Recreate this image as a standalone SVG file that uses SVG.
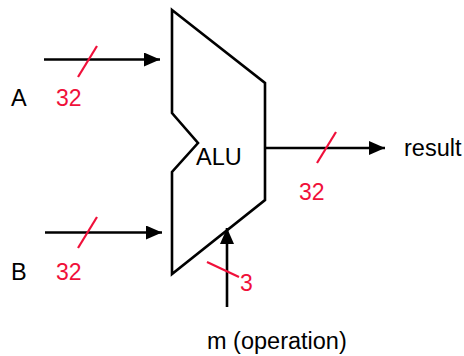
<svg xmlns="http://www.w3.org/2000/svg" width="464" height="356" viewBox="0 0 464 356">
  <style>
    .wire { stroke: #000; stroke-width: 2.6; fill: none; }
    .width { stroke: #f0103a; stroke-width: 2.2; fill: none; }
    .lbl { font-family: "Liberation Sans", Arial, sans-serif; font-size: 23.5px; fill: #000; }
    .num { font-family: "Liberation Sans", Arial, sans-serif; font-size: 23px; fill: #f0103a; }
  </style>
  <defs>
    <marker id="arrow" markerWidth="16" markerHeight="14" refX="16" refY="7" orient="auto" markerUnits="userSpaceOnUse">
      <path d="M0,0 L16,7 L0,14 Z" fill="#000"/>
    </marker>
  </defs>

  <rect width="464" height="356" fill="#fff"/>

  <g id="alu">
    <path class="wire" d="M172,10 L265,83 L265,200 L172,274 L172,172 L198,143 L172,113 Z" fill="#fff" stroke-linejoin="miter"/>
    <text class="lbl" x="196" y="165">ALU</text>
  </g>

  <g id="input-a">
    <text class="lbl" x="11" y="106">A</text>
  </g>

  <g id="input-b">
    <text class="lbl" x="11" y="280">B</text>
  </g>

  <g id="output-result">
    <text class="lbl" x="404" y="156">result</text>
  </g>

  <g id="control-m">
    <text class="lbl" x="207" y="349">m (operation)</text>
  </g>

  <g id="connectors">
    <!-- operand A bus -->
    <line class="wire" x1="44" y1="59.5" x2="160" y2="59.5" marker-end="url(#arrow)"/>
    <line class="width" x1="78" y1="77" x2="97" y2="46"/>
    <text class="num" x="56" y="106">32</text>

    <!-- operand B bus -->
    <line class="wire" x1="45" y1="232.5" x2="162" y2="232.5" marker-end="url(#arrow)"/>
    <line class="width" x1="78" y1="248" x2="97" y2="217"/>
    <text class="num" x="56" y="280">32</text>

    <!-- result bus -->
    <line class="wire" x1="266" y1="148" x2="385" y2="148" marker-end="url(#arrow)"/>
    <line class="width" x1="317" y1="163" x2="336" y2="132"/>
    <text class="num" x="299" y="200">32</text>

    <!-- operation select -->
    <line class="wire" x1="227" y1="307" x2="227" y2="228" marker-end="url(#arrow)"/>
    <line class="width" x1="207" y1="262" x2="239" y2="277"/>
    <text class="num" x="240" y="291">3</text>
  </g>
</svg>
